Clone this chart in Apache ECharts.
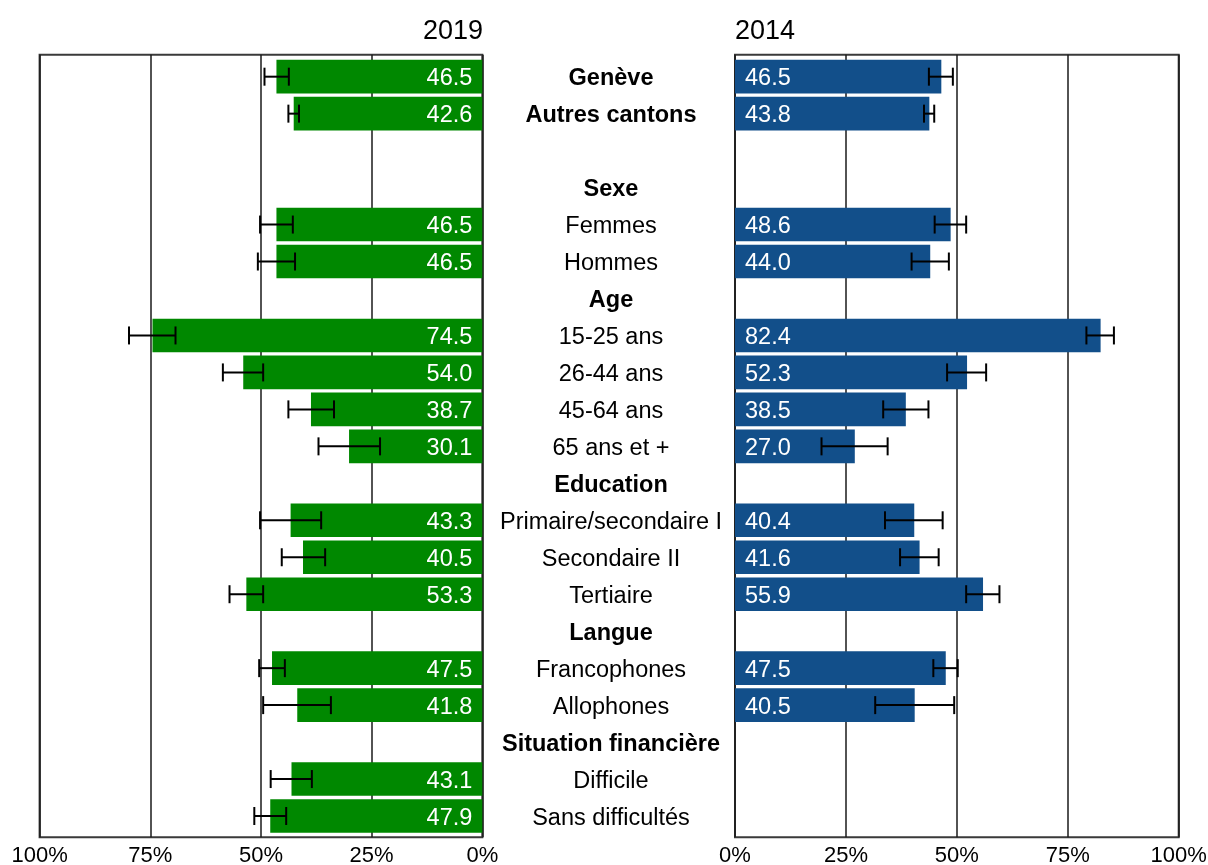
<!DOCTYPE html>
<html>
<head>
<meta charset="utf-8">
<script src="https://cdn.jsdelivr.net/npm/echarts@6/dist/echarts.min.js"></script>
<style>
  html, body { margin: 0; padding: 0; background: #fff; }
  #chart { width: 1208px; height: 865px; }
</style>
</head>
<body>
<div id="chart"></div>
<script>
var categories = ['Genève', 'Autres cantons', '', 'Sexe', 'Femmes', 'Hommes', 'Age',
  '15-25 ans', '26-44 ans', '45-64 ans', '65 ans et +', 'Education',
  'Primaire/secondaire I', 'Secondaire II', 'Tertiaire', 'Langue',
  'Francophones', 'Allophones', 'Situation financière', 'Difficile', 'Sans difficultés'];
var boldCats = ['Genève', 'Autres cantons', 'Sexe', 'Age', 'Education', 'Langue', 'Situation financière'];

var values2019 = [46.5, 42.6, null, null, 46.5, 46.5, null, 74.5, 54.0, 38.7, 30.1, null, 43.3, 40.5, 53.3, null, 47.5, 41.8, null, 43.1, 47.9];
var ciLow2019 = [43.7, 41.4, null, null, 42.8, 42.3, null, 69.3, 49.5, 33.5, 23.1, null, 36.4, 35.5, 49.5, null, 44.6, 34.2, null, 38.5, 44.3];
var ciHigh2019 = [49.2, 43.8, null, null, 50.2, 50.7, null, 79.8, 58.6, 43.8, 37.0, null, 50.2, 45.3, 57.1, null, 50.4, 49.5, null, 47.8, 51.5];

var values2014 = [46.5, 43.8, null, null, 48.6, 44.0, null, 82.4, 52.3, 38.5, 27.0, null, 40.4, 41.6, 55.9, null, 47.5, 40.5, null, null, null];
var ciLow2014 = [43.7, 42.6, null, null, 45.0, 39.8, null, 79.2, 47.8, 33.4, 19.5, null, 33.8, 37.2, 52.1, null, 44.7, 31.6, null, null, null];
var ciHigh2014 = [49.1, 44.9, null, null, 52.1, 48.2, null, 85.4, 56.6, 43.6, 34.4, null, 46.8, 45.9, 59.6, null, 50.2, 49.4, null, null, null];

var FONT = 'Liberation Sans, Arial, sans-serif';
var GREEN = '#008800';
var BLUE = '#124f8a';

function ciData(lo, hi) {
  var out = [];
  for (var i = 0; i < lo.length; i++) {
    if (lo[i] != null) out.push([i, lo[i], hi[i]]);
  }
  return out;
}

function renderCI(params, api) {
  var a = api.coord([api.value(1), api.value(0)]);
  var b = api.coord([api.value(2), api.value(0)]);
  var h = 9;
  var st = { stroke: '#000', lineWidth: 2 };
  return {
    type: 'group',
    children: [
      { type: 'line', shape: { x1: a[0], y1: a[1], x2: b[0], y2: b[1] }, style: st },
      { type: 'line', shape: { x1: a[0], y1: a[1] - h, x2: a[0], y2: a[1] + h }, style: st },
      { type: 'line', shape: { x1: b[0], y1: b[1] - h, x2: b[0], y2: b[1] + h }, style: st }
    ]
  };
}

var chart = echarts.init(document.getElementById('chart'));

// frame grids (0,1) draw border, gridlines and tick labels; data grids (2,3) hold the bars
var frameTop = 54.7, frameH = 782.6;
var rowTop = 58.2, rowH = 776.3;

var option = {
  animation: false,
  title: [
    { text: '2019', right: 1208 - 483, top: 18, padding: 0,
      textStyle: { fontFamily: FONT, fontSize: 27, fontWeight: 'normal', color: '#000' } },
    { text: '2014', left: 735, top: 18, padding: 0,
      textStyle: { fontFamily: FONT, fontSize: 27, fontWeight: 'normal', color: '#000' } }
  ],
  grid: [
    { left: 39.6, width: 442.7, top: frameTop, height: frameH, show: true, borderColor: '#3a3a3a', borderWidth: 2, backgroundColor: 'transparent', containLabel: false, outerBoundsMode: 'none' },
    { left: 735, width: 443.7, top: frameTop, height: frameH, show: true, borderColor: '#3a3a3a', borderWidth: 2, backgroundColor: 'transparent', containLabel: false, outerBoundsMode: 'none' },
    { left: 39.6, width: 442.7, top: rowTop, height: rowH, containLabel: false, outerBoundsMode: 'none' },
    { left: 735, width: 443.7, top: rowTop, height: rowH, containLabel: false, outerBoundsMode: 'none' }
  ],
  xAxis: [
    { gridIndex: 0, type: 'value', min: 0, max: 100, interval: 25, inverse: true,
      axisLine: { show: false }, axisTick: { show: false },
      splitLine: { show: true, lineStyle: { color: '#1a1a1a', width: 1.5 } },
      axisLabel: { formatter: '{value}%', margin: 8, fontFamily: FONT, fontSize: 22, color: '#000' } },
    { gridIndex: 1, type: 'value', min: 0, max: 100, interval: 25,
      axisLine: { show: false }, axisTick: { show: false },
      splitLine: { show: true, lineStyle: { color: '#1a1a1a', width: 1.5 } },
      axisLabel: { formatter: '{value}%', margin: 8, fontFamily: FONT, fontSize: 22, color: '#000' } },
    { gridIndex: 2, type: 'value', min: 0, max: 100, inverse: true, show: false },
    { gridIndex: 3, type: 'value', min: 0, max: 100, show: false }
  ],
  yAxis: [
    { gridIndex: 0, type: 'value', show: false },
    { gridIndex: 1, type: 'value', show: false },
    { gridIndex: 2, type: 'category', data: categories, inverse: true, show: false },
    { gridIndex: 3, type: 'category', data: categories, inverse: true,
      axisLine: { show: false }, axisTick: { show: false },
      axisLabel: {
        margin: 124, align: 'center', padding: [4, 0, 0, 0], fontFamily: FONT, fontSize: 23.5, color: '#000',
        formatter: function (v) { return boldCats.indexOf(v) >= 0 ? '{b|' + v + '}' : v; },
        rich: { b: { fontWeight: 'bold', fontFamily: FONT, fontSize: 23.5, color: '#000' } }
      } }
  ],
  series: [
    { type: 'bar', xAxisIndex: 2, yAxisIndex: 2, data: values2019, barWidth: '91%',
      itemStyle: { color: GREEN },
      label: { show: true, position: 'insideRight', distance: 10, offset: [0, 2], color: '#fff', fontFamily: FONT, fontSize: 23.5,
        formatter: function (p) { return p.value.toFixed(1); } } },
    { type: 'bar', xAxisIndex: 3, yAxisIndex: 3, data: values2014, barWidth: '91%',
      itemStyle: { color: BLUE },
      label: { show: true, position: 'insideLeft', distance: 10, offset: [0, 2], color: '#fff', fontFamily: FONT, fontSize: 23.5,
        formatter: function (p) { return p.value.toFixed(1); } } },
    { type: 'custom', xAxisIndex: 2, yAxisIndex: 2, z: 5, renderItem: renderCI,
      encode: { x: [1, 2], y: 0 }, data: ciData(ciLow2019, ciHigh2019) },
    { type: 'custom', xAxisIndex: 3, yAxisIndex: 3, z: 5, renderItem: renderCI,
      encode: { x: [1, 2], y: 0 }, data: ciData(ciLow2014, ciHigh2014) }
  ]
};

chart.setOption(option);
</script>
</body>
</html>
